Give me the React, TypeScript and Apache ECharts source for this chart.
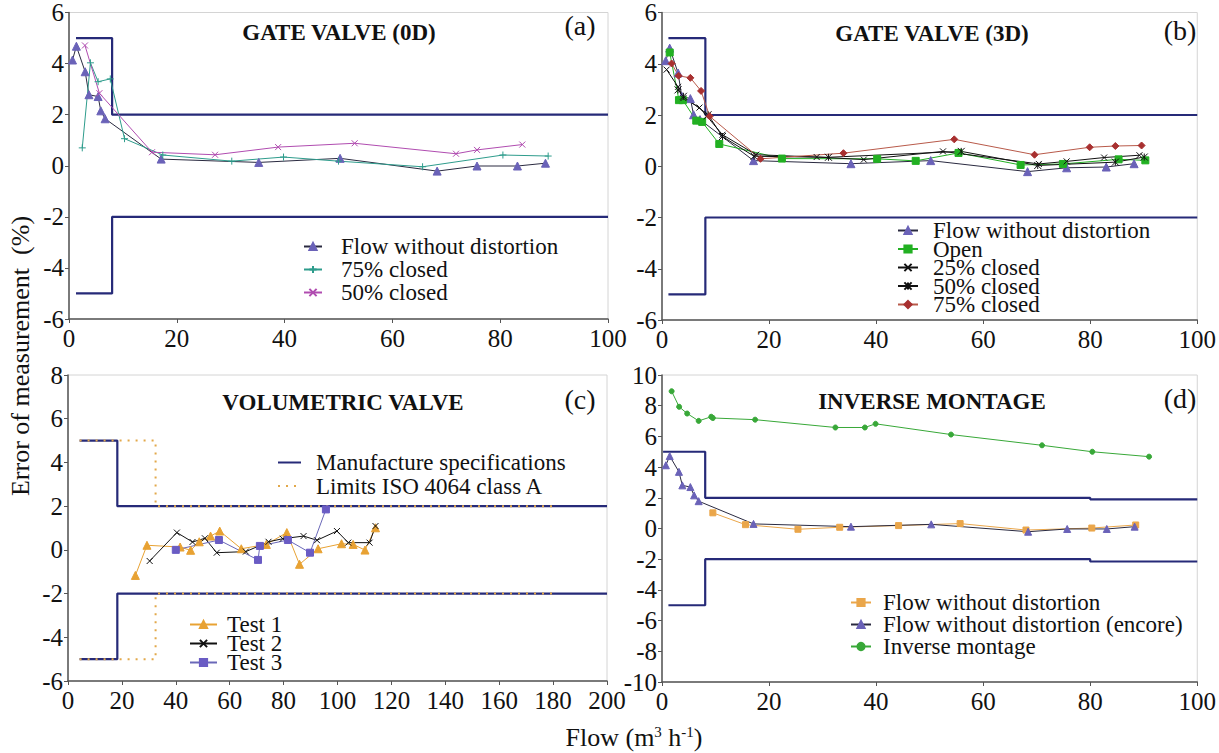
import React, { useEffect, useRef } from 'react';
import * as echarts from 'echarts';

const FAMILY = 'Liberation Serif';
const FONT = '"Liberation Serif", serif';

// ---------- Panel (a) GATE VALVE (0D) ----------
const aLimitUp = [[1.3, 5], [8, 5], [8, 2], [100, 2]];
const aLimitLow = [[1.3, -5], [8, -5], [8, -2], [100, -2]];
const aFlow = [[0.65, 4.14], [1.37, 4.68], [3.0, 3.68], [3.7, 2.78], [5.4, 2.71], [5.9, 2.15], [6.7, 1.84], [17.1, 0.26], [35.2, 0.13], [50.3, 0.29], [68.3, -0.21], [75.7, -0.01], [83.2, -0.01], [88.4, 0.1]];
const a75 = [[2.46, 0.7], [3.98, 4.03], [5.4, 3.29], [7.66, 3.4], [10.3, 1.06], [17.4, 0.42], [30.2, 0.18], [39.8, 0.34], [50.0, 0.18], [65.6, -0.04], [80.5, 0.42], [88.9, 0.38]];
const a50 = [[2.96, 4.71], [5.64, 2.84], [15.4, 0.53], [27.1, 0.43], [38.8, 0.73], [53.0, 0.88], [71.8, 0.47], [75.7, 0.62], [84.1, 0.83]];

// ---------- Panel (b) GATE VALVE (3D) ----------
const bLimitUp = [[1.2, 5], [8.1, 5], [8.1, 2], [100, 2]];
const bLimitLow = [[1.2, -5], [8.1, -5], [8.1, -2], [100, -2]];
const bFlow = [[0.7, 4.12], [1.44, 4.61], [3.0, 3.64], [3.7, 2.73], [5.3, 2.64], [5.9, 2.01], [7.1, 1.82], [17.1, 0.22], [35.3, 0.1], [50.2, 0.22], [68.3, -0.21], [75.6, -0.06], [83.0, -0.03], [88.2, 0.1]];
const bOpen = [[1.44, 4.44], [3.17, 2.58], [3.9, 2.58], [6.4, 1.78], [7.5, 1.73], [10.7, 0.87], [22.4, 0.3], [40.2, 0.29], [47.4, 0.21], [55.4, 0.52], [67.0, 0.05], [74.9, 0.09], [85.3, 0.27], [90.3, 0.23]];
const b25 = [[0.86, 3.77], [3.0, 3.1], [4.0, 2.66], [7.0, 2.29], [8.4, 1.95], [11.3, 1.23], [17.6, 0.45], [28.9, 0.36], [37.7, 0.26], [52.5, 0.58], [70.4, 0.09], [75.6, 0.19], [82.6, 0.34], [89.2, 0.43]];
const b50 = [[3.0, 2.98], [4.0, 2.73], [8.6, 2.01], [11.3, 1.16], [17.2, 0.39], [31.1, 0.35], [55.9, 0.58], [70.2, 0.03], [84.7, 0.16], [90.1, 0.36]];
const b75 = [[1.8, 4.01], [3.1, 3.53], [5.3, 3.45], [7.3, 2.94], [8.9, 1.95], [18.4, 0.29], [33.9, 0.51], [54.6, 1.05], [69.6, 0.45], [79.9, 0.74], [84.7, 0.79], [89.6, 0.81]];

// ---------- Panel (c) VOLUMETRIC VALVE ----------
const cManufUp = [[4.3, 5], [18.3, 5], [18.3, 2], [200, 2]];
const cManufLow = [[4.3, -5], [18.3, -5], [18.3, -2], [200, -2]];
const cIsoUp = [[4.3, 5], [32.5, 5], [32.5, 2], [180, 2]];
const cIsoLow = [[4.3, -5], [32.5, -5], [32.5, -2], [180, -2]];
const cTest1 = [[25.0, -1.17], [29.3, 0.21], [41.6, 0.13], [45.5, -0.02], [48.7, 0.37], [52.9, 0.63], [56.3, 0.86], [64.3, 0.05], [73.6, 0.25], [81.2, 0.79], [85.9, -0.66], [92.8, 0.05], [101.5, 0.28], [105.8, 0.25], [110.2, -0.01], [114.1, 1.01]];
const cTest2 = [[30.3, -0.51], [40.4, 0.79], [46.2, 0.36], [50.8, 0.53], [55.2, -0.13], [66.0, -0.08], [74.4, 0.37], [79.7, 0.51], [87.4, 0.63], [92.4, 0.44], [99.8, 0.86], [104.0, 0.33], [111.9, 0.33], [114.1, 1.09]];
const cTest3 = [[40.0, 0.0], [56.0, 0.45], [70.5, -0.46], [71.2, 0.18], [81.6, 0.45], [89.8, -0.13], [95.7, 1.85]];

// ---------- Panel (d) INVERSE MONTAGE ----------
const dLimitUp = [[0.2, 5], [8.07, 5], [8.07, 2], [80, 2], [80, 1.9], [100, 1.9]];
const dLimitLow = [[1.2, -5], [8.07, -5], [8.07, -2], [80, -2], [80, -2.15], [100, -2.15]];
const dFlow = [[9.5, 1.02], [15.6, 0.25], [25.4, -0.05], [33.2, 0.08], [44.2, 0.19], [55.7, 0.32], [68.0, -0.1], [80.3, 0.03], [88.5, 0.23]];
const dFlowEncore = [[0.72, 4.12], [1.44, 4.72], [3.17, 3.69], [3.8, 2.81], [5.3, 2.7], [6.0, 2.16], [6.85, 1.78], [17.1, 0.3], [35.3, 0.12], [50.3, 0.27], [68.4, -0.21], [75.7, -0.03], [83.1, -0.03], [88.3, 0.12]];
const dInverse = [[1.8, 8.94], [3.2, 7.93], [4.7, 7.49], [6.85, 7.01], [9.2, 7.28], [9.5, 7.2], [17.4, 7.09], [32.4, 6.58], [37.9, 6.58], [39.9, 6.82], [54.0, 6.12], [71.0, 5.42], [80.4, 5.0], [91.0, 4.68]];

// axis settings
const xMaxes = [100, 100, 200, 100];
const yMins = [-6, -6, -6, -10];
const yMaxes = [6, 6, 8, 10];

const PLUS = 'path://M5,0L5,10M0,5L10,5';
const CROSS = 'path://M0,0L10,10M10,0L0,10';
const STAR = 'path://M0,0L10,10M10,0L0,10M5,0L5,10';

const NAVY = '#262a78';

function ser(name: string, data: number[][], gi: number, o: any) {
  return {
    type: 'line',
    name,
    data,
    xAxisIndex: gi,
    yAxisIndex: gi,
    symbol: o.symbol || 'none',
    symbolSize: o.size || 6,
    showSymbol: !!o.symbol,
    silent: true,
    z: o.z || 3,
    lineStyle: { color: o.line || o.color, width: o.width || 1, type: o.type || 'solid' },
    itemStyle: { color: o.color, borderColor: o.color, borderWidth: o.bw == null ? 1 : o.bw },
  };
}

function limit(name: string, data: number[][], gi: number) {
  return ser(name, data, gi, { color: NAVY, width: 2.2, z: 2 });
}

export default function App() {
  const ref = useRef<HTMLDivElement>(null);
  useEffect(() => {
    document.body.style.margin = '0';
    const chart = echarts.init(ref.current!, undefined, { renderer: 'svg' });
    const grids = [
      { left: 69, top: 11, width: 539, height: 308 },
      { left: 662, top: 11, width: 540, height: 309 },
      { left: 68, top: 375, width: 539, height: 306 },
      { left: 662, top: 375, width: 540, height: 307 },
    ].map((g) => ({ ...g, show: true, borderColor: '#d4d4d4', borderWidth: 1 }));

    const axisCommon = {
      axisLine: { show: true, onZero: false, lineStyle: { color: '#555', width: 1.5 } },
      axisTick: { show: true, length: 4, lineStyle: { color: '#555' } },
      splitLine: { show: false },
    };
    const xAxis = xMaxes.map((mx, i) => ({
      type: 'value', gridIndex: i, min: 0, max: mx, interval: 20,
      ...axisCommon,
      axisLabel: { fontSize: 25, color: '#111', fontFamily: FAMILY, margin: 7 },
    }));
    const yAxis = yMins.map((mn, i) => ({
      type: 'value', gridIndex: i, min: mn, max: yMaxes[i], interval: 2,
      ...axisCommon,
      axisLabel: { fontSize: 25, color: '#111', fontFamily: FAMILY, margin: 5 },
    }));

    const TRI = '#6a62b8';
    const series = [
      // (a)
      limit('a:lu', aLimitUp, 0), limit('a:ll', aLimitLow, 0),
      ser('a:Flow without distortion', aFlow, 0, { symbol: 'triangle', size: 8, color: TRI, line: '#2a2a40' }),
      ser('a:75% closed', a75, 0, { symbol: PLUS, size: 7, color: '#2e9c8c' }),
      ser('a:50% closed', a50, 0, { symbol: CROSS, size: 6, color: '#b04cb0' }),
      // (b)
      limit('b:lu', bLimitUp, 1), limit('b:ll', bLimitLow, 1),
      ser('b:Flow without distortion', bFlow, 1, { symbol: 'triangle', size: 8, color: TRI, line: '#2a2a40' }),
      ser('b:Open', bOpen, 1, { symbol: 'rect', size: 7, color: '#22b022' }),
      ser('b:25% closed', b25, 1, { symbol: CROSS, size: 6, color: '#111' }),
      ser('b:50% closed', b50, 1, { symbol: STAR, size: 7, color: '#111' }),
      ser('b:75% closed', b75, 1, { symbol: 'diamond', size: 7, color: '#a83030', line: '#b85a4a' }),
      // (c)
      ser('c:Manufacture specifications', cManufUp, 2, { color: NAVY, width: 2.2, z: 2 }),
      ser('c:Manufacture specifications', cManufLow, 2, { color: NAVY, width: 2.2, z: 2 }),
      ser('c:Limits ISO 4064 class A', cIsoUp, 2, { color: '#e2a84a', width: 2, type: [2, 6], z: 2 }),
      ser('c:Limits ISO 4064 class A', cIsoLow, 2, { color: '#e2a84a', width: 2, type: [2, 6], z: 2 }),
      ser('c:Test 1', cTest1, 2, { symbol: 'triangle', size: 8, color: '#e8a233' }),
      ser('c:Test 2', cTest2, 2, { symbol: CROSS, size: 6, color: '#111' }),
      ser('c:Test 3', cTest3, 2, { symbol: 'rect', size: 7, color: '#6a5cc4', line: '#6a68b8' }),
      // (d)
      limit('d:lu', dLimitUp, 3), limit('d:ll', dLimitLow, 3),
      ser('d:Flow without distortion', dFlow, 3, { symbol: 'rect', size: 6, color: '#eaa64a' }),
      ser('d:Flow without distortion (encore)', dFlowEncore, 3, { symbol: 'triangle', size: 7, color: TRI, line: '#2a2a40' }),
      ser('d:Inverse montage', dInverse, 3, { symbol: 'circle', size: 5, color: '#38a838' }),
    ];

    const legendBase = {
      orient: 'vertical', padding: 0, selectedMode: false,
      formatter: (n: string) => n.replace(/^[a-d]:/, ''),
      itemHeight: 9,
    };
    const lt = (pl: number) => ({
      fontSize: 23, fontFamily: FAMILY, color: '#111', padding: [0, 0, 0, pl],
    });
    const legend = [
      { ...legendBase, left: 303, top: 235, itemGap: 0, itemWidth: 18, textStyle: lt(14),
        data: ['a:Flow without distortion', 'a:75% closed', 'a:50% closed'] },
      { ...legendBase, left: 897, top: 219, itemGap: -4.5, itemWidth: 20, textStyle: lt(10),
        data: ['b:Flow without distortion', 'b:Open', 'b:25% closed', 'b:50% closed', 'b:75% closed'] },
      { ...legendBase, left: 277, top: 451, itemGap: 0.5, itemWidth: 23, textStyle: lt(10),
        data: [
          { name: 'c:Manufacture specifications', itemStyle: { opacity: 0 } },
          { name: 'c:Limits ISO 4064 class A', itemStyle: { opacity: 0 } },
        ] },
      { ...legendBase, left: 189, top: 613, itemGap: -4, itemWidth: 27, textStyle: lt(5),
        data: ['c:Test 1', 'c:Test 2', 'c:Test 3'] },
      { ...legendBase, left: 850, top: 591, itemGap: -1, itemWidth: 20, textStyle: lt(7),
        data: ['d:Flow without distortion', 'd:Flow without distortion (encore)', 'd:Inverse montage'] },
    ];

    const txt = (x: number, y: number, text: string, font: string, extra: any = {}) => ({
      type: 'text', x, y, z: 10, ...extra,
      style: { text, font, fill: '#111', align: 'center', verticalAlign: 'middle' },
    });
    const TB = `bold 23px ${FONT}`;
    const TL = `28px ${FONT}`;
    const graphic = [
      txt(339, 32, 'GATE VALVE (0D)', TB), txt(580, 25, '(a)', TL),
      txt(932, 33, 'GATE VALVE (3D)', TB), txt(1180, 30, '(b)', TL),
      txt(343, 402, 'VOLUMETRIC VALVE', TB), txt(580, 399, '(c)', TL),
      txt(932, 401, 'INVERSE MONTAGE', TB), txt(1180, 398, '(d)', TL),
      txt(20, 356, 'Error of measurement  (%)', `26px ${FONT}`, { rotation: Math.PI / 2 }),
      {
        type: 'text', x: 634, y: 737, z: 10,
        style: {
          text: 'Flow (m{s|3} h{s|-1})', font: `26px ${FONT}`, fill: '#111',
          align: 'center', verticalAlign: 'middle',
          rich: { s: { fontSize: 15, fontFamily: FAMILY, fill: '#111', verticalAlign: 'top', lineHeight: 26 } },
        },
      },
    ];

    chart.setOption({
      animation: false,
      backgroundColor: '#fff',
      textStyle: { fontFamily: FAMILY },
      grid: grids,
      xAxis,
      yAxis,
      legend,
      series,
      graphic,
    });
    return () => chart.dispose();
  }, []);
  return <div ref={ref} style={{ width: 1219, height: 753 }} />;
}
